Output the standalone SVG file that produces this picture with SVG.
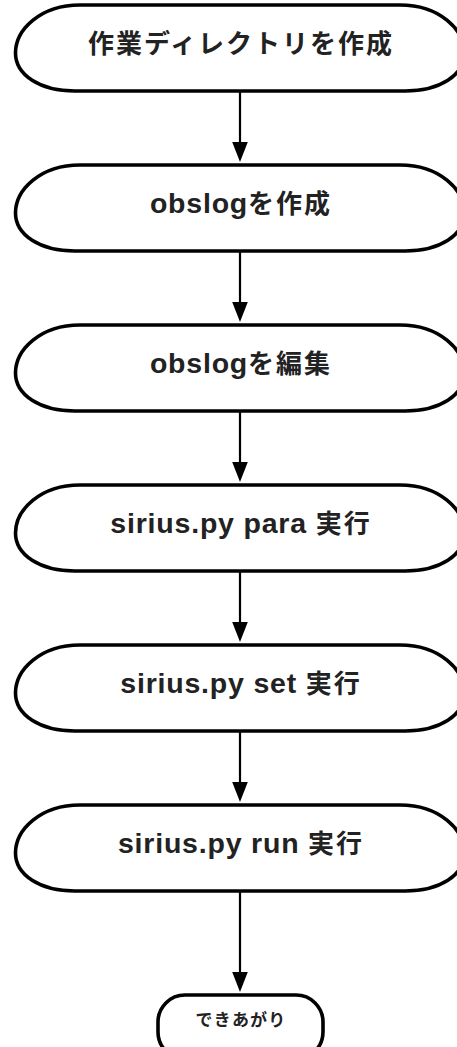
<svg xmlns="http://www.w3.org/2000/svg" xmlns:xlink="http://www.w3.org/1999/xlink" width="457" height="1047" viewBox="0 0 457 1047">
  <style>
    .box { fill: #ffffff; stroke: #000000; stroke-width: 3.6; }
    .lbl { font-family: "Liberation Sans", "Noto Sans CJK JP", sans-serif; font-weight: 700; font-size: 26px; letter-spacing: 2px; fill: #222222; text-anchor: middle; }
    .lat { font-size: 28.5px; letter-spacing: 0.8px; }
    .lbl-s { font-size: 17px; letter-spacing: 1.2px; }
    .edge { stroke: #000000; stroke-width: 2.2; fill: none; }
    .head { fill: #000000; }
  </style>
  <defs>
    <!-- terminator outline, ends slightly lower than mid-height -->
    <path id="term" d="M80,0 H400 C440,0 464.5,25 464.5,48 C464.5,70 440,86 405,86 H75 C40,86 15.5,70 15.5,48 C15.5,25 40,0 80,0 Z"/>
  </defs>

  <g id="connectors">
    <line class="edge" x1="240" y1="91" x2="240" y2="143"/>
    <polygon class="head" points="232.2,142 247.8,142 240,162"/>
    <line class="edge" x1="240" y1="251" x2="240" y2="303"/>
    <polygon class="head" points="232.2,302 247.8,302 240,322"/>
    <line class="edge" x1="240" y1="411" x2="240" y2="463"/>
    <polygon class="head" points="232.2,462 247.8,462 240,482"/>
    <line class="edge" x1="240" y1="571" x2="240" y2="623"/>
    <polygon class="head" points="232.2,622 247.8,622 240,642"/>
    <line class="edge" x1="240" y1="731" x2="240" y2="783"/>
    <polygon class="head" points="232.2,782 247.8,782 240,802"/>
    <line class="edge" x1="240" y1="891" x2="240" y2="973"/>
    <polygon class="head" points="232.2,972 247.8,972 240,992"/>
  </g>

  <g id="n1">
    <use xlink:href="#term" class="box" y="5"/>
    <text class="lbl" x="241" y="53">作業ディレクトリを作成</text>
  </g>
  <g id="n2">
    <use xlink:href="#term" class="box" y="165"/>
    <text class="lbl" x="241" y="213"><tspan class="lat">obslog</tspan>を作成</text>
  </g>
  <g id="n3">
    <use xlink:href="#term" class="box" y="325"/>
    <text class="lbl" x="241" y="373"><tspan class="lat">obslog</tspan>を編集</text>
  </g>
  <g id="n4">
    <use xlink:href="#term" class="box" y="485"/>
    <text class="lbl" x="241" y="533"><tspan class="lat">sirius.py para </tspan>実行</text>
  </g>
  <g id="n5">
    <use xlink:href="#term" class="box" y="645"/>
    <text class="lbl" x="241" y="693"><tspan class="lat">sirius.py set </tspan>実行</text>
  </g>
  <g id="n6">
    <use xlink:href="#term" class="box" y="805"/>
    <text class="lbl" x="241" y="853"><tspan class="lat">sirius.py run </tspan>実行</text>
  </g>
  <g id="n7">
    <rect class="box" x="158" y="995" width="165" height="64" rx="27" ry="27"/>
    <text class="lbl lbl-s" x="241" y="1026">できあがり</text>
  </g>
</svg>
